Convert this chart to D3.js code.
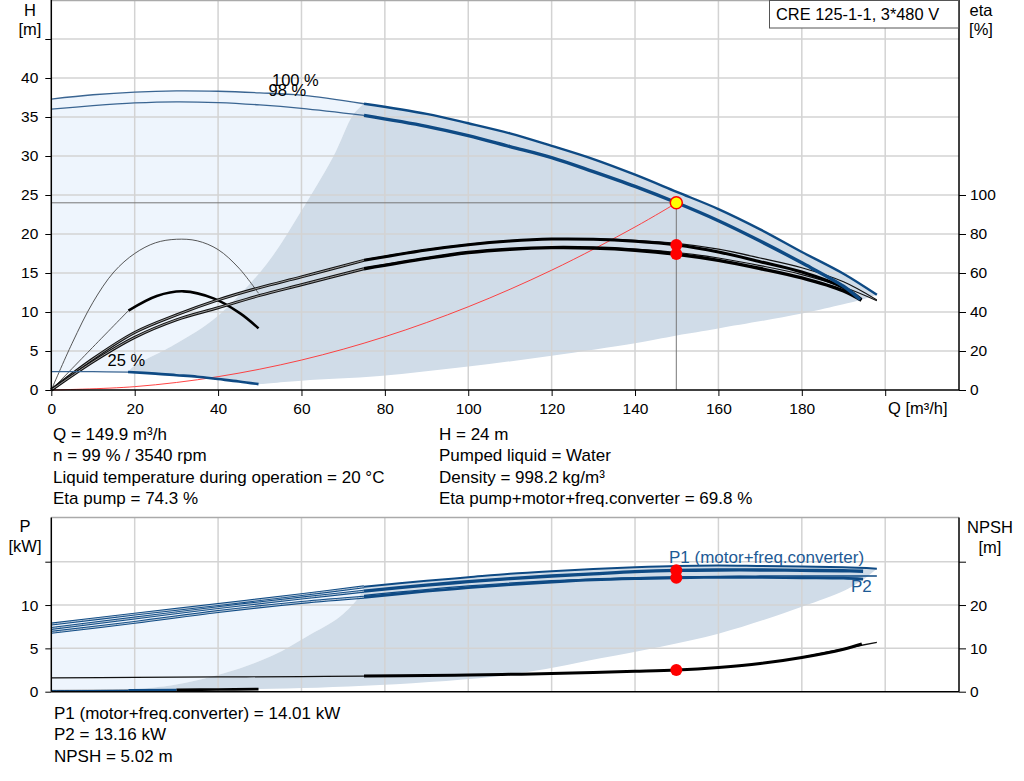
<!DOCTYPE html>
<html><head><meta charset="utf-8">
<script src="https://cdn.jsdelivr.net/npm/d3@7/dist/d3.min.js"></script>
<style>
body{margin:0;background:#fff;}
svg{display:block;font-family:"Liberation Sans",Arial,sans-serif;}
</style></head><body>
<svg id="c" width="1024" height="781"></svg>
<script>
// ---------- DATA ----------
const title = "CRE 125-1-1, 3*480 V";
const qTicks = [0,20,40,60,80,100,120,140,160,180];
const hTicks = [0,5,10,15,20,25,30,35,40];
const etaTicks = [0,20,40,60,80,100];
const pTicks = [0,5,10];
const npshTicks = [0,10,20];

// QH curves
const qH100 = [0,10,20,30,40,50,60,75,90,100,110,120,130,140,150,160,170,180,190,198];
const h100  = [37.3,37.85,38.2,38.35,38.3,38.1,37.8,36.7,35.4,34.2,32.9,31.3,29.6,27.6,25.4,23.2,20.6,17.7,14.9,12.2];
const qH98  = [0,10,20,30,40,50,60,75,90,100,110,120,130,140,150,160,170,180,190,194];
const h98   = [36.0,36.45,36.8,36.95,36.85,36.55,36.1,35.2,33.8,32.6,31.2,29.8,28.0,26.1,24.0,21.7,19.1,16.3,13.3,11.6];
const q25   = [0,10,18.4,25,30,35,40,45,49.7];
const h25   = [2.35,2.35,2.3,2.1,1.9,1.7,1.4,1.1,0.75];

// operating range (top)
const qDarkLeft = [75,72.4,67.6,59.6,51.7,39.7,30.1,19.7,18.4];
const hDarkLeft = [36.7,35.3,29.9,22.65,16.2,9.4,6.0,3.0,2.3];
const qDarkLow  = [49.7,60,78.8,100,120,140,150,160,180,194];
const hDarkLow  = [0.75,1.2,1.8,3.0,4.4,6.0,7.0,7.9,9.8,11.5];

// efficiency curves
const qEta     = [0,10,20,30,40,50,60,75,90,100,110,120,130,140,150,160,170,180,190,194.3];
const etaPump  = [0,16,29.5,38.5,46.2,52.5,58,66.5,71.8,74.5,76.4,77.4,77.3,76.3,74.4,70.8,65.8,60.5,52.5,46.5];
const etaTotal = [0,14.5,27,36,42.2,48.5,54,62.2,67.5,70.5,72.2,73,72.8,71.7,69.6,66.5,62.3,57.5,50.8,46];
const qEta100     = [75,90,100,110,120,130,140,150,160,170,180,190,198];
const etaPump100  = [66.8,72,74.7,76.6,77.5,77.5,76.8,75.2,72.2,67.7,62.7,55.5,46.2];
const etaTotal100 = [62.5,67.8,70.7,72.4,73.2,73.1,72.2,70.5,67.7,63.8,59.2,52.8,45.8];
const qEtaPump25  = [0,5,10,15,20,25,30,35,40,45,49.7];
const etaPump25   = [0,24,45,60.5,70,75.5,77.3,76.5,72,62.5,49.6];
const qEtaLead25  = [0,9.3,18.5];
const etaLead25   = [0,20.5,40.7];
const qEtaTot25   = [18.5,25.3,31.7,38.9,45.3,49.7];
const etaTot25    = [40.7,48.2,50.6,47.0,39.3,31.6];

// system curve
const qSys = [0,20,40,60,80,100,120,140,150];
const hSys = [0,0.43,1.71,3.84,6.83,10.67,15.36,20.9,24];

// duty point
const qOp = 149.9, hOp = 24;
const etaOp = [74.3, 69.8];
const pOp = [14.01, 13.16];
const npshOp = 5.02;

// power curves
const qP    = [0,20,40,60,75,90,100,110,120,130,140,150,160,170,180,190,194.7];
const p1    = [7.3,8.5,9.7,10.8,11.6,12.3,12.7,13.05,13.35,13.6,13.85,14.0,14.05,14.05,14.0,13.95,13.9];
const p2    = [6.85,8.0,9.25,10.3,10.9,11.6,12.0,12.35,12.65,12.9,13.05,13.15,13.2,13.2,13.15,13.1,13.0];
const qP100 = [0,20,40,60,75,90,100,110,120,130,140,150,160,170,180,190,198];
const p1_100= [7.8,8.95,10.05,11.2,12.1,12.8,13.2,13.6,13.9,14.15,14.35,14.5,14.55,14.5,14.45,14.35,14.2];
const qP2_100 = [75,100,120,140,150,160,170,180,190,198];
const p2_100  = [11.1,12.2,12.8,13.15,13.25,13.3,13.35,13.35,13.35,13.35];
const qP25 = [0,18.5,30,40,49.7];
const p25  = [0.1,0.15,0.2,0.25,0.3];
const n25  = [0.3,0.35,0.45,0.5,0.6];

// operating range (bottom)
const qPDarkLeft = [75,73.6,69.2,61.2,53.2,41.2,29.3,18.5];
const pDarkLeft  = [12.1,10.8,8.65,6.35,4.2,2.1,0.77,0.2];
const qPDarkLow  = [18.5,30,49.7,78.8,110.5,131.7,160,180,190.4,195];
const pDarkLow   = [0.2,0.22,0.3,0.77,2.0,3.85,6.7,9.8,11.7,13.0];

// NPSH
const qN   = [0,20,40,60,75,90,100,110,120,130,140,150,160,170,180,190,194.4];
const npsh = [3.2,3.3,3.4,3.5,3.6,3.75,3.85,4.0,4.2,4.45,4.7,5.0,5.6,6.5,7.9,9.8,11.0];
const qN100 = [180,190,198];
const npsh100 = [7.9,9.9,11.4];

const infoLeft  = ["Q = 149.9 m³/h","n = 99 % / 3540 rpm","Liquid temperature during operation = 20 °C","Eta pump = 74.3 %"];
const infoRight = ["H = 24 m","Pumped liquid = Water","Density = 998.2 kg/m³","Eta pump+motor+freq.converter = 69.8 %"];
const infoBottom = ["P1 (motor+freq.converter) = 14.01 kW","P2 = 13.16 kW","NPSH = 5.02 m"];

// ---------- DRAW ----------
const svg = d3.select("#c");
const BLUE = "#0e4a84", LIGHT = "#eef5fd", DARK = "#d0dce8", GRID = "#d3d3d3";
const X0 = 51.3, X1 = 959;
const x = d3.scaleLinear([0, 217.7], [X0, X1]);
const yH = d3.scaleLinear([0, 50], [390, 0]);
const yE = d3.scaleLinear([0, 200], [390, 0]);
const yP = d3.scaleLinear([0, 20.1], [691.7, 517.5]);
const yN = d3.scaleLinear([0, 40.2], [691.7, 517.5]);

function path(qs, vs, ys, from, to) {
  const pts = qs.map((q,i)=>[q, vs[i]]).filter(p => (from===undefined || p[0]>=from) && (to===undefined || p[0]<=to));
  return d3.line().x(p=>x(p[0])).y(p=>ys(p[1])).curve(d3.curveCatmullRom.alpha(0.5))(pts);
}
function rev(a){ return a.slice().reverse(); }
function joinPaths(parts){ return parts.map((p,i)=> i ? p.replace(/^M/,"L") : p).join("") + "Z"; }
function stroke(g, d, color, w) {
  return g.append("path").attr("d", d).attr("fill","none").attr("stroke",color).attr("stroke-width",w).attr("stroke-linejoin","round");
}
function dbl(g, d, outer, inner) {
  stroke(g, d, outer, 3);
  stroke(g, d, inner, 1);
}
const lab = (g, t, xx, yy, size, col, anchor) => g.append("text").attr("x",xx).attr("y",yy).attr("font-size",size).attr("fill",col||"#000").attr("text-anchor",anchor||"start").text(t);

// ---- top chart ----
const gTop = svg.append("g");
gTop.append("path").attr("fill", LIGHT).attr("d", joinPaths([
  path(qH100,h100,yH,0,75), path(qDarkLeft,hDarkLeft,yH), path(rev(q25),rev(h25),yH,0,18.4)
]));
gTop.append("path").attr("fill", DARK).attr("d", joinPaths([
  path(qH100,h100,yH,75), path(rev(qDarkLow),rev(hDarkLow),yH),
  path(rev(q25),rev(h25),yH,18.4), path(rev(qDarkLeft),rev(hDarkLeft),yH)
]));
[20,40,60,80,100,120,140,160,180,200].forEach(q=>{
  gTop.append("line").attr("x1",x(q)).attr("x2",x(q)).attr("y1",0).attr("y2",390).attr("stroke",GRID).attr("stroke-width",1.5);
});
[5,10,15,20,25,30,35,40,45].forEach(h=>{
  gTop.append("line").attr("x1",X0).attr("x2",X1).attr("y1",yH(h)).attr("y2",yH(h)).attr("stroke",GRID).attr("stroke-width",1.5);
});
gTop.append("line").attr("x1",X0).attr("x2",X1).attr("y1",0.5).attr("y2",0.5).attr("stroke","#aaa").attr("stroke-width",1.5);

gTop.append("line").attr("x1",X0).attr("x2",x(qOp)).attr("y1",yH(hOp)).attr("y2",yH(hOp)).attr("stroke","#777").attr("stroke-width",1);
gTop.append("line").attr("x1",x(qOp)).attr("x2",x(qOp)).attr("y1",yH(hOp)).attr("y2",390).attr("stroke","#777").attr("stroke-width",1);

stroke(gTop, path(qSys,hSys,yH), "#ff3030", 0.9);

stroke(gTop, path(qEtaPump25,etaPump25,yE), "#444", 0.9);
stroke(gTop, path(qEtaLead25,etaLead25,yE), "#444", 0.9);
stroke(gTop, path(qEtaTot25,etaTot25,yE), "#000", 2.6);
dbl(gTop, path(qEta,etaPump,yE,0,75), "#111", "#999");
dbl(gTop, path(qEta,etaTotal,yE,0,75), "#111", "#999");
stroke(gTop, path(qEta100,etaPump100,yE), "#111", 1.2);
stroke(gTop, path(qEta100,etaTotal100,yE), "#111", 1.2);
stroke(gTop, path(qEta,etaPump,yE,75), "#000", 3);
stroke(gTop, path(qEta,etaTotal,yE,75), "#000", 3.4);

stroke(gTop, path(qH100,h100,yH,0,75), "#3a6592", 1.3);
stroke(gTop, path(qH98,h98,yH,0,75), "#3a6592", 1.3);
stroke(gTop, path(q25,h25,yH,0,18.4), "#3a6592", 1.3);
stroke(gTop, path(qH100,h100,yH,75), BLUE, 2.4);
stroke(gTop, path(qH98,h98,yH,75), BLUE, 3.4);
stroke(gTop, path(q25,h25,yH,18.4), BLUE, 2.6);

etaOp.forEach(e=>{
  gTop.append("circle").attr("cx",x(qOp)).attr("cy",yE(e)).attr("r",6).attr("fill","#ff0000");
});
gTop.append("circle").attr("cx",x(qOp)).attr("cy",yH(hOp)).attr("r",6).attr("fill","#ffff00").attr("stroke","#ff0000").attr("stroke-width",1.5);

lab(gTop, "100 %", 272, 86, 16.5);
lab(gTop, "98 %", 268.5, 96, 16.5);
lab(gTop, "25 %", 107.5, 366, 16.5);

function styleAxis(g){
  g.selectAll("text").attr("font-size",15.5).attr("fill","#000").attr("font-family",'"Liberation Sans",Arial,sans-serif');
  g.selectAll("line").attr("stroke","#000");
  g.select(".domain").attr("stroke","#000").attr("stroke-width",1.5);
}
const axB = gTop.append("g").attr("transform","translate(0,390)")
  .call(d3.axisBottom(x).tickValues([...qTicks,200]).tickSize(6).tickPadding(6.5).tickFormat(d=> d===200 ? "" : d).tickSizeOuter(0));
styleAxis(axB);
axB.select(".domain").attr("d", `M${X0},0H${X1}`);
const axL = gTop.append("g").attr("transform",`translate(${X0},0)`)
  .call(d3.axisLeft(yH).tickValues([...hTicks,45]).tickSize(6).tickPadding(7).tickFormat(d=> d===45 ? "" : d).tickSizeOuter(0));
styleAxis(axL);
axL.select(".domain").attr("d","M0,0V390");
const axR = gTop.append("g").attr("transform",`translate(${X1},0)`)
  .call(d3.axisRight(yE).tickValues(etaTicks).tickSize(7).tickPadding(4).tickSizeOuter(0));
styleAxis(axR);
axR.select(".domain").attr("d","M0,0V390");
lab(gTop, "Q [m³/h]", 888, 413.5, 16.5);
lab(gTop, "H", 30, 15.5, 16.5, "#000", "middle");
lab(gTop, "[m]", 30, 35, 16.5, "#000", "middle");
lab(gTop, "eta", 981, 15.5, 16.5, "#000", "middle");
lab(gTop, "[%]", 981, 35, 16.5, "#000", "middle");

gTop.append("rect").attr("x",769.5).attr("y",0.5).attr("width",189).attr("height",27.5).attr("fill","#fff").attr("stroke","#555").attr("stroke-width",1);
lab(gTop, title, 776, 20, 16.4);

infoLeft.forEach((t,i)=>lab(svg, t, 53, 440 + i*21.3, 17));
infoRight.forEach((t,i)=>lab(svg, t, 439, 440 + i*21.3, 17));
infoBottom.forEach((t,i)=>lab(svg, t, 54, 719 + i*21.3, 17));

// ---- bottom chart ----
const gBot = svg.append("g");
gBot.append("path").attr("fill", LIGHT).attr("d", joinPaths([
  path(qP100,p1_100,yP,0,75), path(qPDarkLeft,pDarkLeft,yP), path(rev(qP25),rev(p25),yP,0,18.5)
]));
gBot.append("path").attr("fill", DARK).attr("d", joinPaths([
  path(qP100,p1_100,yP,75), path(rev(qPDarkLow),rev(pDarkLow),yP), path(rev(qPDarkLeft),rev(pDarkLeft),yP)
]));
[20,40,60,80,100,120,140,160,180,200].forEach(q=>{
  gBot.append("line").attr("x1",x(q)).attr("x2",x(q)).attr("y1",517.5).attr("y2",691.7).attr("stroke",GRID).attr("stroke-width",1.5);
});
[5,10,15].forEach(p=>{
  gBot.append("line").attr("x1",X0).attr("x2",X1).attr("y1",yP(p)).attr("y2",yP(p)).attr("stroke",GRID).attr("stroke-width",1.5);
});
gBot.append("line").attr("x1",X0).attr("x2",X1).attr("y1",517.5).attr("y2",517.5).attr("stroke","#aaa").attr("stroke-width",1.5);

stroke(gBot, path(qP25,n25,yN,0,30), "#222", 1);
stroke(gBot, path(qP25,n25,yN,30), "#000", 2.6);
stroke(gBot, path(qN,npsh,yN,0,75), "#111", 1.2);
stroke(gBot, path(qN100,npsh100,yN), "#111", 1.3);
stroke(gBot, path(qN,npsh,yN,75), "#000", 3);

stroke(gBot, path(qP25,p25,yP,0,18.5), BLUE, 1.3);
stroke(gBot, path(qP25,p25,yP,18.5,30), BLUE, 2.6);

dbl(gBot, path(qP100,p1_100,yP,0,75), BLUE, "#b8c8d8");
dbl(gBot, path(qP,p1,yP,0,75), BLUE, "#b8c8d8");
dbl(gBot, path(qP,p2,yP,0,75), BLUE, "#b8c8d8");
stroke(gBot, path(qP100,p1_100,yP,75), BLUE, 2);
stroke(gBot, path(qP2_100,p2_100,yP), BLUE, 1.3);
stroke(gBot, path(qP,p1,yP,75), BLUE, 3.4);
stroke(gBot, path(qP,p2,yP,75), BLUE, 2.8);

pOp.forEach(p=>{
  gBot.append("circle").attr("cx",x(qOp)).attr("cy",yP(p)).attr("r",6).attr("fill","#ff0000");
});
gBot.append("circle").attr("cx",x(qOp)).attr("cy",yN(npshOp)).attr("r",6).attr("fill","#ff0000");

lab(gBot, "P1 (motor+freq.converter)", 669, 563, 17, "#1d5a95");
lab(gBot, "P2", 851, 592, 17, "#1d5a95");

const bB = gBot.append("g").attr("transform","translate(0,691.7)")
  .call(d3.axisBottom(x).tickValues([]).tickSizeOuter(0));
styleAxis(bB);
bB.select(".domain").attr("d", `M${X0},0H${X1}`);
const bL = gBot.append("g").attr("transform",`translate(${X0},0)`)
  .call(d3.axisLeft(yP).tickValues([...pTicks,15]).tickSize(6).tickPadding(7).tickFormat(d=> d===15 ? "" : d).tickSizeOuter(0));
styleAxis(bL);
bL.select(".domain").attr("d","M0,517.5V691.7");
const bR = gBot.append("g").attr("transform",`translate(${X1},0)`)
  .call(d3.axisRight(yN).tickValues([...npshTicks,30]).tickSize(7).tickPadding(4).tickFormat(d=> d===30 ? "" : d).tickSizeOuter(0));
styleAxis(bR);
bR.select(".domain").attr("d","M0,517.5V691.7");
lab(gBot, "P", 25, 532, 16.5, "#000", "middle");
lab(gBot, "[kW]", 25, 552, 16.5, "#000", "middle");
lab(gBot, "NPSH", 990, 533, 16.5, "#000", "middle");
lab(gBot, "[m]", 990, 553, 16.5, "#000", "middle");
</script>
</body></html>
